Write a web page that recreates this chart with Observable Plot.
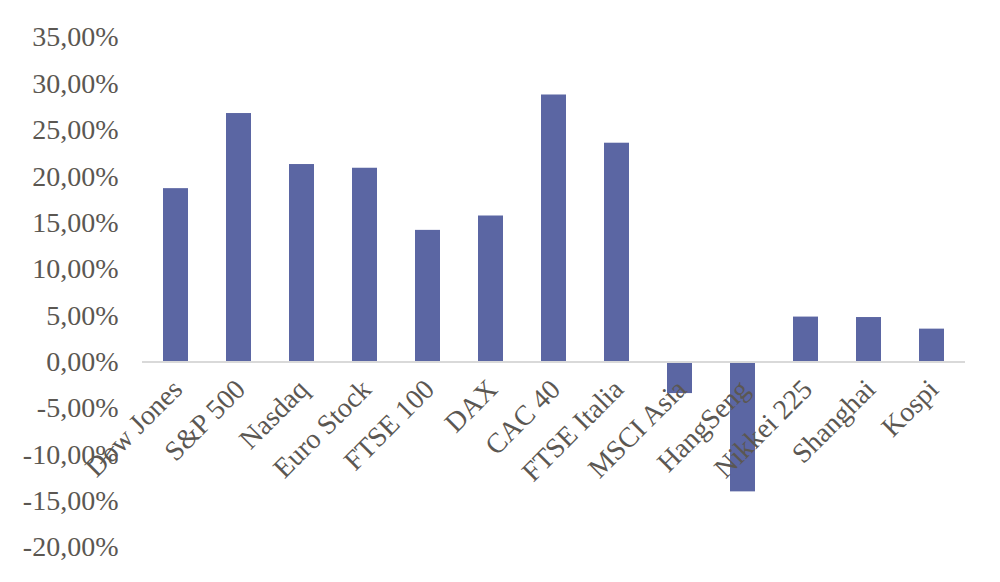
<!DOCTYPE html>
<html>
<head>
<meta charset="utf-8">
<script src="https://cdn.jsdelivr.net/npm/d3@7"></script>
<script src="https://cdn.jsdelivr.net/npm/@observablehq/plot@0.6"></script>
<style>
  html, body { margin: 0; padding: 0; background: #ffffff; }
  #chart svg { display: block; }
</style>
</head>
<body>
<div id="chart"></div>
<script>
const indices = ["Dow Jones", "S&P 500", "Nasdaq", "Euro Stock", "FTSE 100", "DAX", "CAC 40", "FTSE Italia", "MSCI Asia", "HangSeng", "Nikkei 225", "Shanghai", "Kospi"];
const returns = [0.187, 0.268, 0.213, 0.209, 0.142, 0.1575, 0.288, 0.236, -0.034, -0.140, 0.0485, 0.048, 0.0355];
const yTicks = [-0.20, -0.15, -0.10, -0.05, 0, 0.05, 0.10, 0.15, 0.20, 0.25, 0.30, 0.35];

const data = indices.map((name, i) => ({name, value: returns[i]}));
const fmt = d => (d * 100).toFixed(2).replace(".", ",") + "%";
const textColor = "#5b5752";

const chart = Plot.plot({
  width: 1000,
  height: 582,
  marginLeft: 142,
  marginRight: 35,
  marginTop: 37,
  marginBottom: 35,
  style: {fontFamily: "'Liberation Serif', 'Times New Roman', serif", background: "#ffffff"},
  x: {domain: indices, paddingInner: 0.6, paddingOuter: 0.3, axis: null},
  y: {domain: [-0.20, 0.35], axis: null},
  marks: [
    Plot.axisY({ticks: yTicks, tickSize: 0, tickPadding: 24, fontSize: 28, tickFormat: fmt, label: null, fill: textColor, color: textColor}),
    Plot.barY(data, {x: "name", y: "value", fill: "#5b66a3"}),
    Plot.ruleY([0], {stroke: "#d9d9d9", strokeWidth: 2}),
    Plot.text(data, {x: "name", y: () => 0, text: "name", rotate: -45, textAnchor: "end", lineAnchor: "bottom", dx: 8, dy: 29, fontSize: 28, fill: textColor})
  ]
});
document.getElementById("chart").appendChild(chart);
</script>
</body>
</html>
